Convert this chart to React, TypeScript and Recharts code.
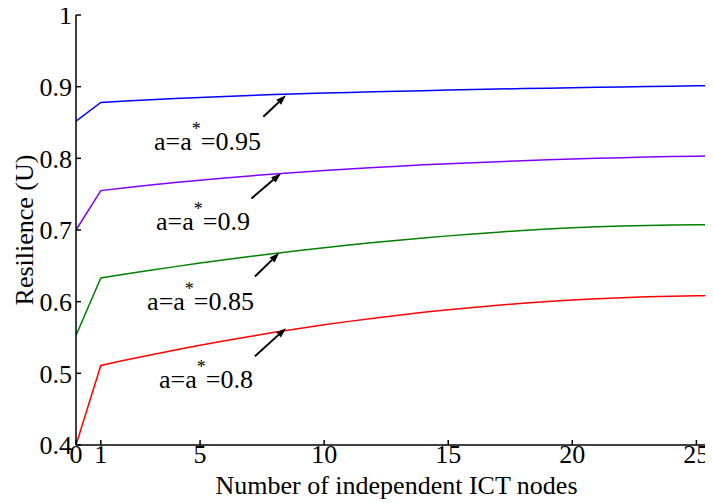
import React from 'react'
import { LineChart, Line, XAxis, YAxis, ReferenceLine, ReferenceDot } from 'recharts'

const FONT = '"Liberation Serif", "Times New Roman", serif'

const nodes = [0, 1, 2, 3, 4, 5, 6, 7, 8, 9, 10, 11, 12, 13, 14, 15, 16, 17, 18, 19, 20, 21, 22, 23, 24, 25, 26]

const res095 = [0.852, 0.878, 0.88, 0.8818, 0.8835, 0.885, 0.8864, 0.8877, 0.8889, 0.89, 0.891, 0.8919, 0.8928, 0.8936, 0.8944, 0.8952, 0.8959, 0.8966, 0.8973, 0.8979, 0.8985, 0.8991, 0.8997, 0.9002, 0.9007, 0.9012, 0.9016]
const res090 = [0.7, 0.755, 0.759, 0.7627, 0.7662, 0.7695, 0.7726, 0.7755, 0.7782, 0.7807, 0.783, 0.7852, 0.7872, 0.7891, 0.7909, 0.7925, 0.794, 0.7954, 0.7967, 0.7979, 0.799, 0.8, 0.8009, 0.8017, 0.8024, 0.803, 0.8035]
const res085 = [0.553, 0.633, 0.6385, 0.6438, 0.6489, 0.6538, 0.6585, 0.663, 0.6673, 0.6714, 0.6753, 0.679, 0.6825, 0.6858, 0.6889, 0.6918, 0.6945, 0.697, 0.6993, 0.7013, 0.703, 0.7044, 0.7055, 0.7063, 0.7069, 0.7073, 0.7075]
const res080 = [0.4, 0.511, 0.5185, 0.5257, 0.5326, 0.5392, 0.5455, 0.5515, 0.5572, 0.5626, 0.5677, 0.5725, 0.577, 0.5812, 0.5851, 0.5887, 0.592, 0.595, 0.5977, 0.6001, 0.6022, 0.604, 0.6055, 0.6067, 0.6076, 0.6082, 0.6085]

const xTicks = [0, 1, 5, 10, 15, 20, 25]
const yTicks = [0.4, 0.5, 0.6, 0.7, 0.8, 0.9, 1]

// annotation text anchors and arrows (data coords)
const notes = [
  { label: '95', tx: 5.3, ty: 0.811, x1: 7.55, y1: 0.858, x2: 8.46, y2: 0.888 },
  { label: '9', tx: 5.12, ty: 0.7, x1: 7.07, y1: 0.744, x2: 8.26, y2: 0.779 },
  { label: '85', tx: 5.02, ty: 0.588, x1: 7.21, y1: 0.635, x2: 8.19, y2: 0.668 },
  { label: '8', tx: 5.24, ty: 0.48, x1: 7.21, y1: 0.524, x2: 8.46, y2: 0.563 },
]

const data = nodes.map((n, i) => ({
  n,
  a95: res095[i],
  a90: res090[i],
  a85: res085[i],
  a80: res080[i],
}))

function Arrow(props: any) {
  const { x1, y1, x2, y2 } = props
  if (x1 == null || x2 == null) return null
  const ang = Math.atan2(y2 - y1, x2 - x1)
  const len = 10
  const half = 3.5
  const bx = x2 - len * Math.cos(ang)
  const by = y2 - len * Math.sin(ang)
  const px = -Math.sin(ang) * half
  const py = Math.cos(ang) * half
  return (
    <g>
      <line x1={x1} y1={y1} x2={bx} y2={by} stroke="#000" strokeWidth={2} />
      <polygon points={`${x2},${y2} ${bx + px},${by + py} ${bx - px},${by - py}`} fill="#000" />
    </g>
  )
}

function NoteText({ cx, cy, label }: any) {
  if (cx == null) return null
  return (
    <text x={cx} y={cy} textAnchor="middle" fontFamily={FONT} fontSize={26} fill="#000">
      <tspan>a=a</tspan>
      <tspan dy={-15} fontSize={18}>*</tspan>
      <tspan dy={15}>{'=0.' + label}</tspan>
    </text>
  )
}

const tickStyle = { fontFamily: FONT, fontSize: 26, fill: '#000' }

export default function App() {
  return (
    <LineChart width={705} height={495} data={data} margin={{ top: 7, right: 0, left: 0, bottom: 0 }}>
      <XAxis
        dataKey="n"
        type="number"
        domain={[0, 25.67]}
        allowDataOverflow
        ticks={xTicks}
        interval={0}
        tickSize={-5}
        tickMargin={5}
        height={58}
        stroke="#000"
        strokeWidth={1.5}
        tick={tickStyle}
        label={(p: any) => {
          const vb = p.viewBox || {}
          return (
            <text x={vb.x + vb.width / 2 + 2} y={vb.y + 49} textAnchor="middle" fontFamily={FONT} fontSize={26} fill="#000">
              Number of independent ICT nodes
            </text>
          )
        }}
      />
      <XAxis
        xAxisId="top"
        orientation="top"
        dataKey="n"
        type="number"
        domain={[0, 25.67]}
        allowDataOverflow
        ticks={xTicks}
        interval={0}
        tickSize={-5}
        height={0}
        stroke="#000"
        strokeWidth={1.5}
        tick={() => <g />}
      />
      <YAxis
        type="number"
        domain={[0.4, 1]}
        ticks={yTicks}
        interval={0}
        width={68}
        tickSize={-5}
        tickMargin={9}
        stroke="#000"
        strokeWidth={1.5}
        tick={tickStyle}
        tickFormatter={(v: number) => (v === 1 ? '1' : v.toFixed(1))}
        label={(p: any) => {
          const vb = p.viewBox || {}
          const cy = vb.y + vb.height / 2
          return (
            <text x={25} y={cy} transform={`rotate(-90, 25, ${cy})`} textAnchor="middle" fontFamily={FONT} fontSize={26} fill="#000">
              Resilience (U)
            </text>
          )
        }}
      />
      <Line dataKey="a95" stroke="#0000ff" strokeWidth={1.5} dot={false} isAnimationActive={false} />
      <Line dataKey="a90" stroke="#7f00ff" strokeWidth={1.5} dot={false} isAnimationActive={false} />
      <Line dataKey="a85" stroke="#008000" strokeWidth={1.5} dot={false} isAnimationActive={false} />
      <Line dataKey="a80" stroke="#ff0000" strokeWidth={1.5} dot={false} isAnimationActive={false} />
      {notes.map((m) => (
        <ReferenceLine
          key={'arr' + m.label}
          segment={[
            { x: m.x1, y: m.y1 },
            { x: m.x2, y: m.y2 },
          ]}
          shape={Arrow}
        />
      ))}
      {notes.map((m) => (
        <ReferenceDot
          key={'txt' + m.label}
          x={m.tx}
          y={m.ty}
          r={0}
          shape={(p: any) => <NoteText cx={p.cx} cy={p.cy} label={m.label} />}
        />
      ))}
    </LineChart>
  )
}
